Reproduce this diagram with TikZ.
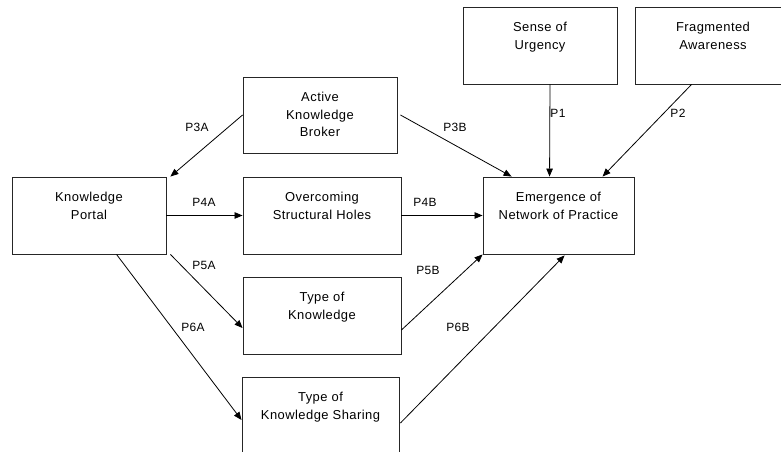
\documentclass[tikz,border=0pt]{standalone}
\usepackage{fontspec}
\setmainfont[LetterSpace=3.5]{Liberation Sans}
\usetikzlibrary{arrows.meta,calc}
\begin{document}
\begin{tikzpicture}[x=1bp,y=-1bp,
  box/.style={draw=black!85,line width=0.9bp,minimum width=#1,minimum height=77bp,inner sep=0pt},
  boxtext/.style={anchor=north,align=center,font=\fontsize{13}{17.5}\selectfont,inner sep=0pt,yshift=-15.5bp},
  lbl/.style={font=\fontsize{12}{14}\selectfont,inner sep=0pt},
  conn/.style={line width=0.8bp,-{Triangle[length=8bp,width=6.5bp]}}]
\useasboundingbox (0,0) rectangle (781,452);
% boxes
\node[box=154bp] (su) at (540,45.5) {};
\node[box=156bp] (fa) at (713,45.5) {};
\node[box=154bp,minimum height=76bp] (akb) at (320,115) {};
\node[box=154bp] (kp) at (89,215.5) {};
\node[box=158bp] (osh) at (322,215.5) {};
\node[box=151bp] (em) at (558.5,215.5) {};
\node[box=158bp] (tk) at (322,315.5) {};
\node[box=157bp] (tks) at (320.5,415.5) {};
% texts
\node[boxtext] (sut) at (su.north) {Sense of\\Urgency};
\node[boxtext] (fat) at (fa.north) {Fragmented\\Awareness};
\node[boxtext] (akbt) at (akb.north) {Active\\Knowledge\\Broker};
\node[boxtext] (kpt) at (kp.north) {Knowledge\\Portal};
\node[boxtext] (osht) at (osh.north) {Overcoming\\Structural Holes};
\node[boxtext] (emt) at (em.north) {Emergence of\\Network of Practice};
\node[boxtext] (tkt) at (tk.north) {Type of\\Knowledge};
\node[boxtext] (tkst) at (tks.north) {Type of\\Knowledge Sharing};
% anchor coordinates
\coordinate (p3as) at (akb.west);
\coordinate (p3ae) at ($(kp.north east)+(4,0)$);
\coordinate (p3bs) at ($(akb.east)+(3,0)$);
\coordinate (p3be) at ($(em.north west)+(29,0)$);
\coordinate (p1s) at ($(su.south)+(10,0)$);
\coordinate (p1e) at ($(em.north west)+(67,0)$);
\coordinate (p2s) at ($(fa.south west)+(57,0)$);
\coordinate (p2e) at ($(em.north west)+(120,0)$);
\coordinate (p5as) at ($(kp.south east)+(4,0)$);
\coordinate (p5ae) at ($(tk.west)+(0,12.5)$);
\coordinate (p6as) at ($(kp.south west)+(105,0)$);
\coordinate (p6ae) at ($(tks.west)+(0,4.5)$);
\coordinate (p5bs) at ($(tk.east)+(0,14.5)$);
\coordinate (p5be) at (em.south west);
\coordinate (p6bs) at ($(tks.east)+(1,7.5)$);
\coordinate (p6be) at ($(em.south west)+(82,1)$);
% connectors
\draw[conn] (p3as) -- (p3ae);
\draw[conn] (p3bs) -- (p3be);
\draw[conn] (p1s) -- (p1e);
\draw[conn] (p2s) -- (p2e);
\draw[conn] (kp.east) -- (osh.west);
\draw[conn] (osh.east) -- (em.west);
\draw[conn] (p5as) -- (p5ae);
\draw[conn] (p6as) -- (p6ae);
\draw[conn] (p5bs) -- (p5be);
\draw[conn] (p6bs) -- (p6be);
% labels
\node[lbl] (l3a) at (197,127) {P3A};
\node[lbl] (l3b) at (455,127) {P3B};
\node[lbl] (l1) at (558,113) {P1};
\node[lbl] (l2) at (678,113) {P2};
\node[lbl] (l4a) at (204,202) {P4A};
\node[lbl] (l4b) at (425,202) {P4B};
\node[lbl] (l5a) at (204,265) {P5A};
\node[lbl] (l5b) at (428,270) {P5B};
\node[lbl] (l6a) at (193,327) {P6A};
\node[lbl] (l6b) at (458,327) {P6B};
\end{tikzpicture}
\end{document}
